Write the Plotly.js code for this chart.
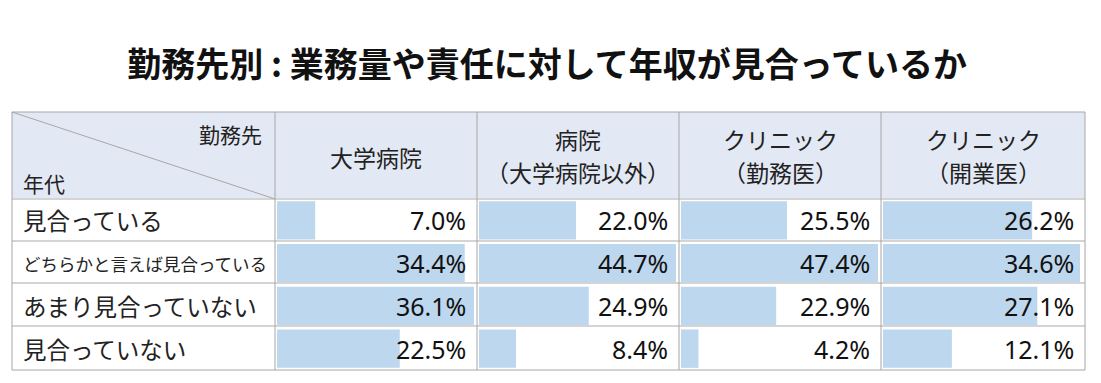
<!DOCTYPE html>
<html>
<head>
<meta charset="utf-8">
<script src="https://cdn.plot.ly/plotly-3.0.1.min.js"></script>
<style>html,body{margin:0;padding:0;background:#fff;}#chart{width:1101px;height:383px;}</style>
</head>
<body>
<div id="chart"></div>
<script>
// ---- data ----
const categories = ['見合っている', 'どちらかと言えば見合っている', 'あまり見合っていない', '見合っていない'];
const columnLine1 = ['大学病院', '病院', 'クリニック', 'クリニック'];
const columnLine2 = ['', '（大学病院以外）', '（勤務医）', '（開業医）'];
const univHospital = [7.0, 34.4, 36.1, 22.5];
const otherHospital = [22.0, 44.7, 24.9, 8.4];
const clinicEmployed = [25.5, 47.4, 22.9, 4.2];
const clinicOwner = [26.2, 34.6, 27.1, 12.1];
const cornerTop = '勤務先';
const cornerBottom = '年代';
const titleText = '勤務先別 : 業務量や責任に対して年収が見合っているか';

const series = [univHospital, otherHospital, clinicEmployed, clinicOwner];

// ---- layout geometry (pixels) ----
const W = 1101, H = 383;
const colX = [12, 275, 477, 679, 881, 1085];
const tableTop = 112, headTop = 112, headBottom = 199, tableBottom = 370;
const rowLines = [241, 283, 326];
const px = v => v / W;
const py = v => 1 - v / H;
const barMaxW = 197;

const jp = '"Noto Sans CJK JP", "Noto Sans", sans-serif';
const num = '"Noto Sans", "Open Sans", sans-serif';

const data = [];
const layout = {
  width: W, height: H,
  margin: {l: 0, r: 0, t: 0, b: 0},
  paper_bgcolor: '#ffffff',
  plot_bgcolor: 'rgba(0,0,0,0)',
  showlegend: false,
  bargap: 0.1,
  title: {
    text: '<b>' + titleText + '</b>',
    x: 0.497, xanchor: 'center',
    y: py(65), yanchor: 'middle',
    font: {family: jp, size: 34, color: '#111111'}
  },
  shapes: [],
  annotations: []
};

series.forEach((vals, i) => {
  const n = i === 0 ? '' : String(i + 1);
  data.push({
    type: 'bar', orientation: 'h',
    x: vals, y: categories,
    xaxis: 'x' + n, yaxis: 'y' + n,
    marker: {color: '#bdd7ee', line: {width: 0}},
    hoverinfo: 'none'
  });
  const left = colX[i + 1] + 2;
  layout['xaxis' + n] = {
    domain: [px(left), px(left + barMaxW)],
    range: [0, Math.max(...vals)],
    visible: false, fixedrange: true,
    anchor: 'y' + n
  };
  layout['yaxis' + n] = {
    domain: [py(tableBottom), py(headBottom)],
    type: 'category',
    categoryorder: 'array', categoryarray: categories,
    range: [categories.length - 0.5, -0.5],
    visible: false, fixedrange: true,
    anchor: 'x' + n
  };
});

// header background
layout.shapes.push({type: 'rect', xref: 'paper', yref: 'paper', layer: 'below',
  x0: px(colX[0]), x1: px(colX[5]), y0: py(headBottom), y1: py(headTop),
  fillcolor: '#e3e9f4', line: {width: 0}});
// horizontal row separators (light, 2px)
[headBottom].concat(rowLines).forEach(yv => {
  layout.shapes.push({type: 'line', xref: 'paper', yref: 'paper', layer: 'above',
    x0: px(colX[0]), x1: px(colX[5]), y0: py(yv), y1: py(yv),
    line: {color: '#d4d4d4', width: 2}});
});
// vertical lines
colX.forEach(xv => {
  layout.shapes.push({type: 'line', xref: 'paper', yref: 'paper', layer: 'above',
    x0: px(xv), x1: px(xv), y0: py(tableBottom), y1: py(tableTop),
    line: {color: '#a6a6a6', width: 1}});
});
// outer top & bottom
[tableTop, tableBottom].forEach(yv => {
  layout.shapes.push({type: 'line', xref: 'paper', yref: 'paper', layer: 'above',
    x0: px(colX[0]), x1: px(colX[5]), y0: py(yv), y1: py(yv),
    line: {color: '#a6a6a6', width: 1}});
});
// diagonal
layout.shapes.push({type: 'line', xref: 'paper', yref: 'paper', layer: 'above',
  x0: px(colX[0]), y0: py(headTop), x1: px(colX[1]), y1: py(headBottom),
  line: {color: '#a6a6a6', width: 1}});

// corner labels
layout.annotations.push({xref: 'paper', yref: 'paper', x: px(264), y: py(134),
  xanchor: 'right', yanchor: 'middle', showarrow: false, text: cornerTop,
  font: {family: jp, size: 21, color: '#222'}});
layout.annotations.push({xref: 'paper', yref: 'paper', x: px(21), y: py(183),
  xanchor: 'left', yanchor: 'middle', showarrow: false, text: cornerBottom,
  font: {family: jp, size: 21, color: '#222'}});

// column headers
columnLine1.forEach((lab, i) => {
  const cx = (colX[i + 1] + colX[i + 2]) / 2;
  const two = columnLine2[i] !== '';
  layout.annotations.push({xref: 'paper', yref: 'paper', x: px(cx), y: py(two ? 139 : 157),
    xanchor: 'center', yanchor: 'middle', showarrow: false, text: lab,
    font: {family: jp, size: 23, color: '#222'}});
  if (two) {
    layout.annotations.push({xref: 'paper', yref: 'paper', x: px(cx), y: py(172),
      xanchor: 'center', yanchor: 'middle', showarrow: false, text: columnLine2[i],
      font: {family: jp, size: 23, color: '#222'}});
  }
});

// row labels and values
const rowH = (tableBottom - headBottom) / categories.length;
categories.forEach((cat, r) => {
  const cy = headBottom + rowH * (r + 0.5);
  layout.annotations.push({xref: 'paper', yref: 'paper', x: px(21), y: py(cy),
    xanchor: 'left', yanchor: 'middle', showarrow: false, text: cat,
    font: {family: jp, size: cat.length > 10 ? 17.5 : 23.5, color: '#222'}});
  series.forEach((vals, i) => {
    layout.annotations.push({xref: 'paper', yref: 'paper', x: px(colX[i + 2] - 9), y: py(cy),
      xanchor: 'right', yanchor: 'middle', showarrow: false,
      text: vals[r].toFixed(1) + '%',
      font: {family: num, size: 25, color: '#111'}});
  });
});

Plotly.newPlot('chart', data, layout, {displayModeBar: false, staticPlot: true});
</script>
</body>
</html>
